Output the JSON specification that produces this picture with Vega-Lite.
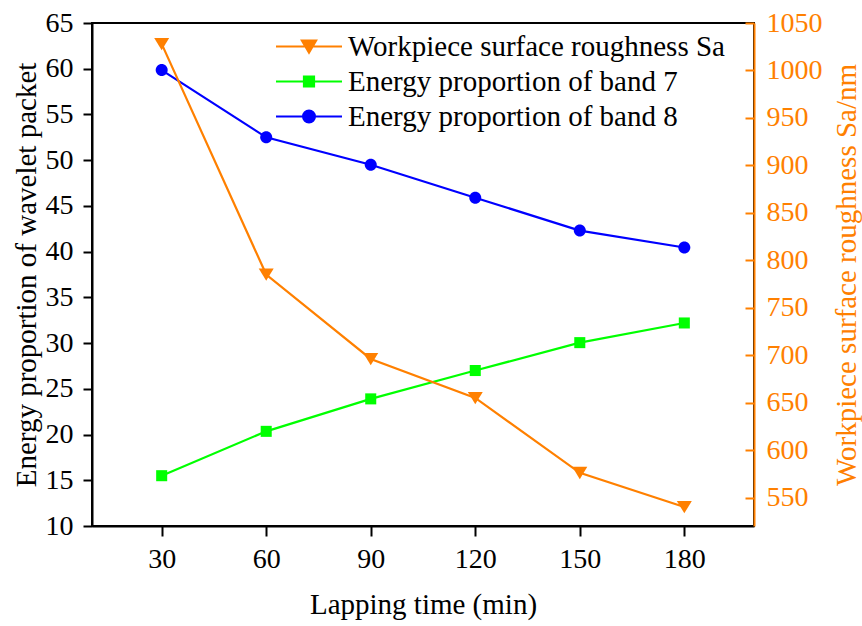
{
  "$schema": "https://vega.github.io/schema/vega-lite/v6.json",
  "width": 662,
  "height": 503,
  "autosize": {"type": "none"},
  "padding": {"left": 92, "top": 23, "right": 108, "bottom": 100},
  "background": "white",
  "config": {
    "font": "Liberation Serif",
    "view": {"stroke": "black", "strokeWidth": 2},
    "axis": {
      "grid": false,
      "labelFont": "Liberation Serif",
      "titleFont": "Liberation Serif",
      "labelFontSize": 28,
      "titleFontSize": 29,
      "titleFontWeight": "normal",
      "domainWidth": 2,
      "tickWidth": 2,
      "domainColor": "black",
      "tickColor": "black",
      "labelColor": "black",
      "titleColor": "black"
    },
    "legend": {
      "orient": "none",
      "legendX": 202.5,
      "legendY": 9,
      "labelFont": "Liberation Serif",
      "labelFontSize": 29,
      "labelColor": "black",
      "labelLimit": 0,
      "symbolSize": 144,
      "symbolOffset": 0,
      "symbolStrokeWidth": 2,
      "symbolOpacity": 1,
      "labelOffset": 24.5,
      "rowPadding": 5,
      "padding": 0
    }
  },
  "data": {
    "values": [
      {"time": 30, "series": "Workpiece surface roughness Sa", "value": 1028},
      {"time": 60, "series": "Workpiece surface roughness Sa", "value": 785},
      {"time": 90, "series": "Workpiece surface roughness Sa", "value": 696},
      {"time": 120, "series": "Workpiece surface roughness Sa", "value": 655},
      {"time": 150, "series": "Workpiece surface roughness Sa", "value": 576},
      {"time": 180, "series": "Workpiece surface roughness Sa", "value": 540},
      {"time": 30, "series": "Energy proportion of band 7", "value": 15.5},
      {"time": 60, "series": "Energy proportion of band 7", "value": 20.35},
      {"time": 90, "series": "Energy proportion of band 7", "value": 23.9},
      {"time": 120, "series": "Energy proportion of band 7", "value": 27.0},
      {"time": 150, "series": "Energy proportion of band 7", "value": 30.05},
      {"time": 180, "series": "Energy proportion of band 7", "value": 32.2},
      {"time": 30, "series": "Energy proportion of band 8", "value": 59.85},
      {"time": 60, "series": "Energy proportion of band 8", "value": 52.5},
      {"time": 90, "series": "Energy proportion of band 8", "value": 49.5},
      {"time": 120, "series": "Energy proportion of band 8", "value": 45.9},
      {"time": 150, "series": "Energy proportion of band 8", "value": 42.3},
      {"time": 180, "series": "Energy proportion of band 8", "value": 40.45}
    ]
  },
  "encoding": {
    "x": {
      "field": "time",
      "type": "quantitative",
      "scale": {"domain": [10, 200], "nice": false, "zero": false},
      "axis": {
        "title": "Lapping time (min)",
        "values": [30, 60, 90, 120, 150, 180],
        "tickSize": 10,
        "labelPadding": 9,
        "titlePadding": 17,
        "labelFlush": false
      }
    }
  },
  "layer": [
    {
      "transform": [{"filter": "datum.series !== 'Workpiece surface roughness Sa'"}],
      "encoding": {
        "y": {
          "field": "value",
          "type": "quantitative",
          "scale": {"domain": [10, 65], "nice": false, "zero": false},
          "axis": {
            "orient": "left",
            "title": "Energy proportion of wavelet packet",
            "values": [10, 15, 20, 25, 30, 35, 40, 45, 50, 55, 60, 65],
            "tickSize": 9,
            "labelPadding": 10,
            "titlePadding": 4
          }
        }
      },
      "layer": [
        {
          "mark": {"type": "line", "strokeWidth": 2.2},
          "encoding": {
            "stroke": {
              "field": "series", "type": "nominal", "title": null,
              "scale": {"domain": ["Workpiece surface roughness Sa", "Energy proportion of band 7", "Energy proportion of band 8"], "range": ["#FF8000", "#00FF00", "#0000FF"]}
            }
          }
        },
        {
          "transform": [{"filter": "datum.series === 'Energy proportion of band 7'"}],
          "mark": {"type": "point", "filled": true, "opacity": 1, "size": 144, "shape": "M-0.92,-0.92H0.92V0.92H-0.92Z"},
          "encoding": {
            "fill": {
              "field": "series", "type": "nominal", "title": null,
              "scale": {"domain": ["Workpiece surface roughness Sa", "Energy proportion of band 7", "Energy proportion of band 8"], "range": ["#FF8000", "#00FF00", "#0000FF"]}
            }
          }
        },
        {
          "transform": [{"filter": "datum.series === 'Energy proportion of band 8'"}],
          "mark": {"type": "point", "filled": true, "opacity": 1, "size": 144, "shape": "M1,0A1,1,0,1,1,-1,0A1,1,0,1,1,1,0Z"},
          "encoding": {
            "fill": {
              "field": "series", "type": "nominal", "title": null,
              "scale": {"domain": ["Workpiece surface roughness Sa", "Energy proportion of band 7", "Energy proportion of band 8"], "range": ["#FF8000", "#00FF00", "#0000FF"]}
            }
          }
        }
      ]
    },
    {
      "transform": [{"filter": "datum.series === 'Workpiece surface roughness Sa'"}],
      "encoding": {
        "y": {
          "field": "value",
          "type": "quantitative",
          "scale": {"domain": [520, 1050], "nice": false, "zero": false},
          "axis": {
            "orient": "right",
            "title": "Workpiece surface roughness Sa/nm",
            "titleAngle": -90,
            "format": "d",
            "values": [550, 600, 650, 700, 750, 800, 850, 900, 950, 1000, 1050],
            "tickSize": -9,
            "labelPadding": 21,
            "titlePadding": 39,
            "domainColor": "#FF8000",
            "tickColor": "#FF8000",
            "labelColor": "#FF8000",
            "titleColor": "#FF8000"
          }
        }
      },
      "layer": [
        {
          "mark": {"type": "line", "strokeWidth": 2.2},
          "encoding": {
            "stroke": {
              "field": "series", "type": "nominal", "title": null,
              "scale": {"domain": ["Workpiece surface roughness Sa", "Energy proportion of band 7", "Energy proportion of band 8"], "range": ["#FF8000", "#00FF00", "#0000FF"]}
            }
          }
        },
        {
          "mark": {"type": "point", "filled": true, "opacity": 1, "size": 144, "shape": "M0,1.05L-1.25,-1L1.25,-1Z"},
          "encoding": {
            "fill": {
              "field": "series", "type": "nominal", "title": null,
              "scale": {"domain": ["Workpiece surface roughness Sa", "Energy proportion of band 7", "Energy proportion of band 8"], "range": ["#FF8000", "#00FF00", "#0000FF"]}
            }
          }
        },
        {
          "transform": [{"filter": "false"}],
          "mark": {"type": "point", "filled": true, "opacity": 1, "size": 144, "strokeWidth": 2.2},
          "encoding": {
            "fill": {
              "field": "series", "type": "nominal", "title": null,
              "scale": {"domain": ["Workpiece surface roughness Sa", "Energy proportion of band 7", "Energy proportion of band 8"], "range": ["#FF8000", "#00FF00", "#0000FF"]}
            },
            "stroke": {
              "field": "series", "type": "nominal", "title": null,
              "scale": {"domain": ["Workpiece surface roughness Sa", "Energy proportion of band 7", "Energy proportion of band 8"], "range": ["#FF8000", "#00FF00", "#0000FF"]}
            },
            "shape": {
              "field": "series", "type": "nominal", "title": null,
              "scale": {
                "domain": ["Workpiece surface roughness Sa", "Energy proportion of band 7", "Energy proportion of band 8"],
                "range": ["M-5.5,0H5.5M0,1.05L-1.2,-1L1.2,-1Z", "M-5.5,0H5.5M-0.85,-0.85H0.85V0.85H-0.85Z", "M-5.5,0H5.5M1,0A1,1,0,1,1,-1,0A1,1,0,1,1,1,0Z"]
              }
            }
          }
        }
      ]
    }
  ],
  "resolve": {"scale": {"y": "independent"}}
}
